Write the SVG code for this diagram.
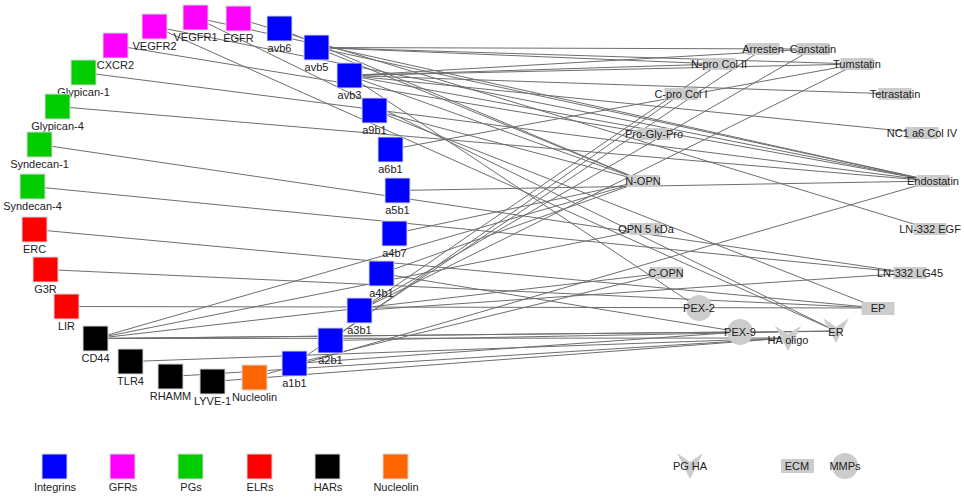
<svg xmlns="http://www.w3.org/2000/svg" width="964" height="497" viewBox="0 0 964 497">
<defs>
<style>
text{font-family:"Liberation Sans",Arial,sans-serif;font-size:11px;fill:#222;text-anchor:middle}
.sq{stroke:#d8d8d8;stroke-width:1}
.int{fill:#0000ff}.gfr{fill:#ff00ff}.pg{fill:#00cc00}.elr{fill:#ff0000}.har{fill:#000000}.nuc{fill:#ff6600}
.ecm{fill:#cccccc}
#edges line{stroke:#6e6e6e;stroke-width:1}
</style>
</defs>
<rect width="964" height="497" fill="#ffffff"/>
<g id="edges">
<line x1="83.5" y1="72.5" x2="933" y2="181"/>
<line x1="57.5" y1="106.5" x2="933" y2="181"/>
<line x1="39.5" y1="144.5" x2="910" y2="273"/>
<line x1="32.5" y1="186.5" x2="910" y2="273"/>
<line x1="34.5" y1="229.5" x2="878" y2="308"/>
<line x1="45.5" y1="269.5" x2="878" y2="308"/>
<line x1="66.5" y1="306.5" x2="878" y2="308"/>
<line x1="95.5" y1="338.5" x2="788" y2="338"/>
<line x1="130.5" y1="361.5" x2="788" y2="338"/>
<line x1="170.5" y1="376.5" x2="788" y2="338"/>
<line x1="212.5" y1="381.5" x2="788" y2="338"/>
<line x1="95.5" y1="338.5" x2="740" y2="332"/>
<line x1="95.5" y1="338.5" x2="836" y2="331"/>
<line x1="95.5" y1="338.5" x2="666" y2="273"/>
<line x1="95.5" y1="338.5" x2="646" y2="229"/>
<line x1="95.5" y1="338.5" x2="643" y2="181"/>
<line x1="254.5" y1="377.5" x2="933" y2="181"/>
<line x1="294.5" y1="363.5" x2="763" y2="49"/>
<line x1="330.5" y1="340.5" x2="836" y2="331"/>
<line x1="330.5" y1="340.5" x2="681" y2="94"/>
<line x1="359.5" y1="310.5" x2="857" y2="64"/>
<line x1="359.5" y1="310.5" x2="813" y2="49"/>
<line x1="359.5" y1="310.5" x2="910" y2="273"/>
<line x1="359.5" y1="310.5" x2="719" y2="64"/>
<line x1="381.5" y1="273.5" x2="643" y2="181"/>
<line x1="381.5" y1="273.5" x2="740" y2="332"/>
<line x1="394.5" y1="233.5" x2="643" y2="181"/>
<line x1="397.5" y1="190.5" x2="933" y2="181"/>
<line x1="390.5" y1="149.5" x2="857" y2="64"/>
<line x1="374.5" y1="110.5" x2="643" y2="181"/>
<line x1="374.5" y1="110.5" x2="878" y2="308"/>
<line x1="349.5" y1="75.5" x2="813" y2="49"/>
<line x1="349.5" y1="75.5" x2="857" y2="64"/>
<line x1="349.5" y1="75.5" x2="895" y2="94"/>
<line x1="349.5" y1="75.5" x2="922" y2="133"/>
<line x1="349.5" y1="75.5" x2="933" y2="181"/>
<line x1="349.5" y1="75.5" x2="643" y2="181"/>
<line x1="349.5" y1="75.5" x2="699" y2="308"/>
<line x1="349.5" y1="75.5" x2="719" y2="64"/>
<line x1="316.5" y1="47.5" x2="813" y2="49"/>
<line x1="316.5" y1="47.5" x2="857" y2="64"/>
<line x1="316.5" y1="47.5" x2="719" y2="64"/>
<line x1="316.5" y1="47.5" x2="933" y2="181"/>
<line x1="316.5" y1="47.5" x2="643" y2="181"/>
<line x1="279.5" y1="28.5" x2="643" y2="181"/>
<line x1="195.5" y1="17.5" x2="836" y2="331"/>
<line x1="154.5" y1="26.5" x2="836" y2="331"/>
<line x1="154.5" y1="26.5" x2="933" y2="181"/>
<line x1="195.5" y1="17.5" x2="933" y2="181"/>
<line x1="238.5" y1="18.5" x2="930" y2="229"/>
<line x1="115.5" y1="45.5" x2="654" y2="134"/>
<line x1="294.5" y1="363.5" x2="666" y2="273"/>
<line x1="294.5" y1="363.5" x2="740" y2="332"/>
</g>
<g id="n-VEGFR1"><rect class="sq gfr" x="183" y="5" width="25" height="25"/><text x="195.5" y="41">VEGFR1</text></g>
<g id="n-EGFR"><rect class="sq gfr" x="226" y="6" width="25" height="25"/><text x="238.5" y="42">EGFR</text></g>
<g id="n-VEGFR2"><rect class="sq gfr" x="142" y="14" width="25" height="25"/><text x="154.5" y="50">VEGFR2</text></g>
<g id="n-CXCR2"><rect class="sq gfr" x="103" y="33" width="25" height="25"/><text x="115.5" y="69">CXCR2</text></g>
<g id="n-Glypican-1"><rect class="sq pg" x="71" y="60" width="25" height="25"/><text x="83.5" y="96">Glypican-1</text></g>
<g id="n-Glypican-4"><rect class="sq pg" x="45" y="94" width="25" height="25"/><text x="57.5" y="130">Glypican-4</text></g>
<g id="n-Syndecan-1"><rect class="sq pg" x="27" y="132" width="25" height="25"/><text x="39.5" y="168">Syndecan-1</text></g>
<g id="n-Syndecan-4"><rect class="sq pg" x="20" y="174" width="25" height="25"/><text x="32.5" y="210">Syndecan-4</text></g>
<g id="n-ERC"><rect class="sq elr" x="22" y="217" width="25" height="25"/><text x="34.5" y="253">ERC</text></g>
<g id="n-G3R"><rect class="sq elr" x="33" y="257" width="25" height="25"/><text x="45.5" y="293">G3R</text></g>
<g id="n-LIR"><rect class="sq elr" x="54" y="294" width="25" height="25"/><text x="66.5" y="330">LIR</text></g>
<g id="n-CD44"><rect class="sq har" x="83" y="326" width="25" height="25"/><text x="95.5" y="362">CD44</text></g>
<g id="n-TLR4"><rect class="sq har" x="118" y="349" width="25" height="25"/><text x="130.5" y="385">TLR4</text></g>
<g id="n-RHAMM"><rect class="sq har" x="158" y="364" width="25" height="25"/><text x="170.5" y="400">RHAMM</text></g>
<g id="n-LYVE-1"><rect class="sq har" x="200" y="369" width="25" height="25"/><text x="212.5" y="405">LYVE-1</text></g>
<g id="n-Nucleolin"><rect class="sq nuc" x="242" y="365" width="25" height="25"/><text x="254.5" y="401">Nucleolin</text></g>
<g id="n-a1b1"><rect class="sq int" x="282" y="351" width="25" height="25"/><text x="294.5" y="387">a1b1</text></g>
<g id="n-a2b1"><rect class="sq int" x="318" y="328" width="25" height="25"/><text x="330.5" y="364">a2b1</text></g>
<g id="n-a3b1"><rect class="sq int" x="347" y="298" width="25" height="25"/><text x="359.5" y="334">a3b1</text></g>
<g id="n-a4b1"><rect class="sq int" x="369" y="261" width="25" height="25"/><text x="381.5" y="297">a4b1</text></g>
<g id="n-a4b7"><rect class="sq int" x="382" y="221" width="25" height="25"/><text x="394.5" y="257">a4b7</text></g>
<g id="n-a5b1"><rect class="sq int" x="385" y="178" width="25" height="25"/><text x="397.5" y="214">a5b1</text></g>
<g id="n-a6b1"><rect class="sq int" x="378" y="137" width="25" height="25"/><text x="390.5" y="173">a6b1</text></g>
<g id="n-a9b1"><rect class="sq int" x="362" y="98" width="25" height="25"/><text x="374.5" y="134">a9b1</text></g>
<g id="n-avb3"><rect class="sq int" x="337" y="63" width="25" height="25"/><text x="349.5" y="99">avb3</text></g>
<g id="n-avb5"><rect class="sq int" x="304" y="35" width="25" height="25"/><text x="316.5" y="71">avb5</text></g>
<g id="n-avb6"><rect class="sq int" x="267" y="16" width="25" height="25"/><text x="279.5" y="52">avb6</text></g>
<g id="m-Arresten"><rect class="ecm" x="746.5" y="43" width="33" height="12"/><text x="763" y="53">Arresten</text></g>
<g id="m-Canstatin"><rect class="ecm" x="796.5" y="43" width="33" height="12"/><text x="813" y="53">Canstatin</text></g>
<g id="m-NproColII"><rect class="ecm" x="702.5" y="58" width="33" height="12"/><text x="719" y="68">N-pro Col II</text></g>
<g id="m-Tumstatin"><rect class="ecm" x="840.5" y="58" width="33" height="12"/><text x="857" y="68">Tumstatin</text></g>
<g id="m-CproColI"><rect class="ecm" x="664.5" y="88" width="33" height="12"/><text x="681" y="98">C-pro Col I</text></g>
<g id="m-Tetrastatin"><rect class="ecm" x="878.5" y="88" width="33" height="12"/><text x="895" y="98">Tetrastatin</text></g>
<g id="m-NC1a6ColIV"><rect class="ecm" x="905.5" y="127" width="33" height="12"/><text x="922" y="137">NC1 a6 Col IV</text></g>
<g id="m-ProGlyPro"><rect class="ecm" x="637.5" y="128" width="33" height="12"/><text x="654" y="138">Pro-Gly-Pro</text></g>
<g id="m-Endostatin"><rect class="ecm" x="916.5" y="175" width="33" height="12"/><text x="933" y="185">Endostatin</text></g>
<g id="m-NOPN"><rect class="ecm" x="626.5" y="175" width="33" height="12"/><text x="643" y="185">N-OPN</text></g>
<g id="m-OPN5kDa"><rect class="ecm" x="629.5" y="223" width="33" height="12"/><text x="646" y="233">OPN 5 kDa</text></g>
<g id="m-LN332EGF"><rect class="ecm" x="913.5" y="223" width="33" height="12"/><text x="930" y="233">LN-332 EGF</text></g>
<g id="m-LN332LG45"><rect class="ecm" x="893.5" y="267" width="33" height="12"/><text x="910" y="277">LN-332 LG45</text></g>
<g id="m-COPN"><rect class="ecm" x="649.5" y="267" width="33" height="12"/><text x="666" y="277">C-OPN</text></g>
<g id="m-PEX-2"><circle class="ecm" cx="699" cy="308" r="13"/><text x="699" y="312">PEX-2</text></g>
<g id="m-EP"><rect class="ecm" x="861.5" y="302" width="33" height="13"/><text x="878" y="312">EP</text></g>
<g id="m-PEX-9"><circle class="ecm" cx="740" cy="332" r="13"/><text x="740" y="336">PEX-9</text></g>
<g id="m-HAoligo"><path class="ecm" d="M775,326 L788,334 L801,326 L788,351 Z"/><text x="788" y="344">HA oligo</text></g>
<g id="m-ER"><path class="ecm" d="M823,318 L836,327 L849,318 L836,343 Z"/><text x="836" y="336">ER</text></g>
<g id="legend">
<rect class="sq int" x="42" y="454" width="25" height="25"/><text x="55" y="491">Integrins</text>
<rect class="sq gfr" x="110" y="454" width="25" height="25"/><text x="123" y="491">GFRs</text>
<rect class="sq pg" x="178" y="454" width="25" height="25"/><text x="191" y="491">PGs</text>
<rect class="sq elr" x="247" y="454" width="25" height="25"/><text x="260" y="491">ELRs</text>
<rect class="sq har" x="315" y="454" width="25" height="25"/><text x="328" y="491">HARs</text>
<rect class="sq nuc" x="383" y="454" width="25" height="25"/><text x="396" y="491">Nucleolin</text>
<path class="ecm" d="M677,453 L690,462 L703,453 L690,479 Z"/><text x="690" y="470">PG HA</text>
<rect class="ecm" x="781" y="459" width="33" height="14"/><text x="797" y="470">ECM</text>
<circle class="ecm" cx="845" cy="466" r="13"/><text x="845" y="470">MMPs</text>
</g>
</svg>
